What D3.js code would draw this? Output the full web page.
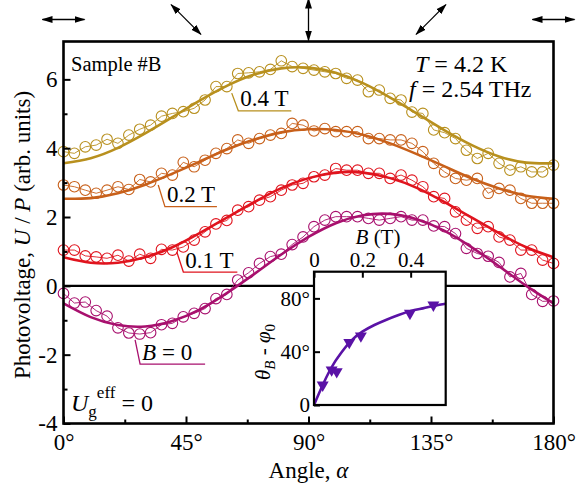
<!DOCTYPE html>
<html><head><meta charset="utf-8">
<script src="https://cdn.jsdelivr.net/npm/d3@7"></script>
<style>body{margin:0;background:#fff} text{font-family:"Liberation Serif","Times New Roman",serif;}</style>
</head><body>
<svg id="c" width="579" height="491"></svg>
<script>
// ---------- data ----------
const angles = [0,4,8,12,16,20,24,28,32,36,40,44,48,52,56,60,64,68,72,76,80,84,88,92,96,100,104,108,112,116,120,124,128,132,136,140,144,148,152,156,160,164,168,172,176,180];
const data0T  = [-0.22,-0.50,-0.47,-0.72,-0.88,-1.22,-1.37,-1.40,-1.36,-1.13,-1.09,-0.90,-0.80,-0.66,-0.37,-0.25,0.17,0.38,0.65,0.85,0.92,1.20,1.42,1.72,1.91,2.01,2.01,2.01,1.96,1.91,1.96,2.01,1.91,1.91,1.74,1.72,1.52,1.09,0.94,0.86,0.68,0.26,0.36,-0.25,-0.45,-0.44];
const data01T = [1.04,1.04,0.87,0.84,0.80,0.89,0.72,0.92,0.80,1.06,1.04,1.13,1.33,1.57,1.80,1.90,2.20,2.30,2.49,2.59,2.78,2.93,2.98,3.17,3.22,3.41,3.36,3.36,3.27,3.27,3.12,3.22,3.07,2.88,2.59,2.54,2.15,1.91,1.67,1.72,1.42,1.33,1.04,1.04,0.75,0.65];
const data02T = [2.93,2.88,2.78,2.69,2.78,2.88,2.80,3.09,3.02,3.27,3.22,3.59,3.46,3.65,3.85,3.99,4.24,4.14,4.28,4.38,4.43,4.72,4.67,4.50,4.57,4.48,4.48,4.48,4.28,4.28,4.24,4.24,4.14,3.90,3.56,3.31,3.12,3.07,3.12,2.69,2.83,2.78,2.54,2.40,2.40,2.40];
const data04T = [3.90,3.85,4.04,4.09,4.26,4.14,4.38,4.55,4.67,4.93,5.01,5.06,5.16,5.40,5.79,5.79,6.17,6.19,6.22,6.29,6.54,6.37,6.32,6.27,6.22,6.17,6.03,5.98,5.64,5.69,5.45,5.40,5.05,5.01,4.53,4.45,4.28,3.94,3.70,3.85,3.56,3.36,3.46,3.31,3.31,3.51];

const fitAngles = [0,10,20,30,40,50,60,70,80,90,100,110,120,130,140,150,160,170,180];
const fit0T  = [-0.51,-0.91,-1.14,-1.18,-1.02,-0.69,-0.21,0.34,0.91,1.42,1.82,2.05,2.09,1.93,1.60,1.12,0.57,0.00,-0.51];
const fit01T = [0.83,0.67,0.67,0.83,1.12,1.53,1.98,2.43,2.84,3.13,3.29,3.29,3.13,2.84,2.43,1.98,1.53,1.12,0.83];
const fit02T = [2.53,2.55,2.69,2.94,3.26,3.61,3.96,4.25,4.46,4.55,4.53,4.39,4.14,3.82,3.47,3.12,2.83,2.62,2.53];
const fit04T = [3.56,3.71,4.01,4.43,4.90,5.38,5.81,6.14,6.32,6.34,6.19,5.89,5.47,5.00,4.52,4.09,3.76,3.58,3.56];

const seriesNames = ["B = 0","0.1 T","0.2 T","0.4 T"];

const xTicks = [0,45,90,135,180];
const xTickLabels = ["0°","45°","90°","135°","180°"];
const xMinor = [22.5,67.5,112.5,157.5];
const yTicks = [-4,-2,0,2,4,6];
const yTickLabels = ["-4","-2","0","2","4","6"];
const yMinor = [-3,-1,1,3,5];

const polAngles = [0,45,90,135,180];

const insetB = [0.036,0.073,0.094,0.146,0.194,0.397,0.494];
const insetTheta = [15,26.3,25,47,51.8,68.8,75];
const insetFitB = [0,0.02,0.04,0.06,0.08,0.10,0.15,0.20,0.25,0.30,0.35,0.40,0.45,0.50,0.545];
const insetFitTheta = [0,8.5,16.5,24,30.5,36,47.5,55,60,64,67.5,70.5,72.5,74.5,76];
const insetXTicks = [0,0.2,0.4];
const insetXTickLabels = ["0","0.2","0.4"];
const insetYTicks = [0,40,80];
const insetYTickLabels = ["0","40°","80°"];

// ---------- layout ----------
const svg = d3.select("#c");
const L=63.5, R=553.5, T=41.5, B=423.5;
const x = d3.scaleLinear().domain([0,180]).range([L,R]);
const y = d3.scaleLinear().domain([-4,7.1]).range([B,T]);
const colors = ["#A8106E","#E0141E","#C8601A","#B8901E"];
const dataSets = [data0T,data01T,data02T,data04T];
const fitSets = [fit0T,fit01T,fit02T,fit04T];

// defs: arrowheads
const defs = svg.append("defs");
defs.append("marker").attr("id","ah").attr("viewBox","0 -4 11 8").attr("refX",10).attr("refY",0)
  .attr("markerWidth",11).attr("markerHeight",8).attr("markerUnits","userSpaceOnUse").attr("orient","auto-start-reverse")
  .append("path").attr("d","M0,-3.5L11,0L0,3.5Z").attr("fill","#000");

// polarization arrows
const half = 21;
svg.append("g").selectAll("line").data(polAngles).join("line")
  .attr("x1",d=>x(d)-half*Math.cos(d*Math.PI/180)).attr("y1",d=>19.5-half*Math.sin(d*Math.PI/180))
  .attr("x2",d=>x(d)+half*Math.cos(d*Math.PI/180)).attr("y2",d=>19.5+half*Math.sin(d*Math.PI/180))
  .attr("stroke","#000").attr("stroke-width",1.3)
  .attr("marker-start","url(#ah)").attr("marker-end","url(#ah)");

// zero line
svg.append("line").attr("x1",L).attr("x2",R).attr("y1",y(0)).attr("y2",y(0)).attr("stroke","#000").attr("stroke-width",2.2);

// fits
const fitLine = d3.line().x((d,i)=>x(fitAngles[i])).y(d=>y(d)).curve(d3.curveNatural);
fitSets.forEach((f,k)=>{
  svg.append("path").attr("d",fitLine(f)).attr("fill","none").attr("stroke",colors[k]).attr("stroke-width",2.6);
});
// data
const dLine = d3.line().x((d,i)=>x(angles[i])).y(d=>y(d));
dataSets.forEach((ds,k)=>{
  svg.append("path").attr("d",dLine(ds)).attr("fill","none").attr("stroke",colors[k]).attr("stroke-width",0.9);
  svg.append("g").selectAll("circle").data(ds).join("circle")
    .attr("cx",(d,i)=>x(angles[i])).attr("cy",d=>y(d)).attr("r",5.3)
    .attr("fill","none").attr("stroke",colors[k]).attr("stroke-width",1.1);
});

// axes
svg.append("g").attr("class","main-ax").attr("transform",`translate(0,${B})`)
  .call(d3.axisBottom(x).tickValues(xTicks).tickFormat((d,i)=>xTickLabels[i]).tickSizeInner(-7).tickSizeOuter(0).tickPadding(10));
svg.append("g").attr("class","main-ax").attr("transform",`translate(0,${B})`)
  .call(d3.axisBottom(x).tickValues(xMinor).tickFormat("").tickSizeInner(-4).tickSizeOuter(0));
svg.append("g").attr("class","main-ax").attr("transform",`translate(${L},0)`)
  .call(d3.axisLeft(y).tickValues(yTicks).tickFormat((d,i)=>yTickLabels[i]).tickSizeInner(-7).tickSizeOuter(0).tickPadding(6));
svg.append("g").attr("class","main-ax").attr("transform",`translate(${L},0)`)
  .call(d3.axisLeft(y).tickValues(yMinor).tickFormat("").tickSizeInner(-4).tickSizeOuter(0));
svg.selectAll(".main-ax .domain").remove();
svg.selectAll(".main-ax .tick line").attr("stroke","#000").attr("stroke-width",2);
svg.selectAll(".main-ax .tick text").attr("font-family","Liberation Serif").attr("font-size",23).attr("fill","#000");

// frame
svg.append("rect").attr("x",L).attr("y",T).attr("width",R-L).attr("height",B-T).attr("fill","none").attr("stroke","#000").attr("stroke-width",2.6);

// axis titles
svg.append("text").attr("x",(L+R)/2).attr("y",478).attr("text-anchor","middle").attr("font-size",23)
  .html('Angle, <tspan font-style="italic">α</tspan>');
svg.append("text").attr("transform","translate(30,235) rotate(-90)").attr("text-anchor","middle").attr("font-size",23)
  .html('Photovoltage, <tspan font-style="italic">U</tspan> / <tspan font-style="italic">P</tspan> (arb. units)');

// annotations
svg.append("text").attr("x",71).attr("y",71).attr("font-size",20.5).text("Sample #B");
svg.append("text").attr("x",415).attr("y",72).attr("font-size",24)
  .html('<tspan font-style="italic">T</tspan> = 4.2 K');
svg.append("text").attr("x",409).attr("y",97).attr("font-size",24)
  .html('<tspan font-style="italic">f</tspan> = 2.54 THz');
const ug = svg.append("text").attr("x",71).attr("y",411).attr("font-size",24);
ug.append("tspan").attr("font-style","italic").text("U");
ug.append("tspan").attr("font-size",17).attr("dy",6).text("g");
ug.append("tspan").attr("font-size",17).attr("dy",-19).text("eff");
ug.append("tspan").attr("dy",13).text(" = 0");

// callouts
const callouts = [
  {k:0, a:26.3, v:-1.57, dx:5, dy:24.3, len:65, html:'<tspan font-style="italic">B</tspan> = 0'},
  {k:1, a:41.6, v:0.99, dx:6.6, dy:20.3, len:54, html:'0.1 T'},
  {k:2, a:34.8, v:2.93, dx:6.7, dy:21.7, len:52, html:'0.2 T'},
  {k:3, a:61.8, v:5.60, dx:6.6, dy:17.7, len:53, html:'0.4 T'}
];
callouts.forEach(c=>{
  const px=x(c.a), py=y(c.v);
  svg.append("path").attr("d",`M${px},${py}L${px+c.dx},${py+c.dy}L${px+c.dx+c.len},${py+c.dy}`)
    .attr("fill","none").attr("stroke",colors[c.k]).attr("stroke-width",1.3);
  svg.append("text").attr("x",px+c.dx+2).attr("y",py+c.dy-4.5).attr("font-size",23).html(c.html);
});

// ---------- inset ----------
const iL=314, iR=445.7, iT=271.7, iB=405;
const ix = d3.scaleLinear().domain([0,0.545]).range([iL,iR]);
const iy = d3.scaleLinear().domain([0,100]).range([iB,iT]);
svg.append("rect").attr("x",iL).attr("y",iT).attr("width",iR-iL).attr("height",iB-iT).attr("fill","#fff").attr("stroke","none");
const inColor="#5A12A6";
svg.append("path").attr("d",d3.line().x((d,i)=>ix(insetFitB[i])).y(d=>iy(d)).curve(d3.curveNatural)(insetFitTheta))
  .attr("fill","none").attr("stroke",inColor).attr("stroke-width",2.6);
const tri = d3.symbol().type(d3.symbolTriangle).size(62);
svg.append("g").selectAll("path").data(insetTheta).join("path")
  .attr("d",tri).attr("transform",(d,i)=>`translate(${ix(insetB[i])},${iy(d)}) rotate(180)`).attr("fill",inColor);
svg.append("g").attr("class","in-ax").attr("transform",`translate(0,${iT})`)
  .call(d3.axisTop(ix).tickValues(insetXTicks).tickFormat((d,i)=>insetXTickLabels[i]).tickSizeInner(-6).tickSizeOuter(0).tickPadding(5));
svg.append("g").attr("class","in-ax").attr("transform",`translate(${iL},0)`)
  .call(d3.axisLeft(iy).tickValues(insetYTicks).tickFormat((d,i)=>insetYTickLabels[i]).tickSizeInner(-6).tickSizeOuter(0).tickPadding(4));
svg.selectAll(".in-ax .domain").remove();
svg.selectAll(".in-ax .tick line").attr("stroke","#000").attr("stroke-width",2);
svg.selectAll(".in-ax .tick text").attr("font-family","Liberation Serif").attr("font-size",21).attr("fill","#000");
svg.append("rect").attr("x",iL).attr("y",iT).attr("width",iR-iL).attr("height",iB-iT).attr("fill","none").attr("stroke","#000").attr("stroke-width",2.2);
svg.append("text").attr("x",378).attr("y",244).attr("text-anchor","middle").attr("font-size",21)
  .html('<tspan font-style="italic">B</tspan> (T)');
const yl = svg.append("text").attr("transform","translate(270,352) rotate(-90)").attr("text-anchor","middle").attr("font-size",21);
yl.append("tspan").attr("font-style","italic").text("θ");
yl.append("tspan").attr("font-style","italic").attr("font-size",15).attr("dy",5).text("B");
yl.append("tspan").attr("dy",-5).text(" - ");
yl.append("tspan").attr("font-style","italic").text("φ");
yl.append("tspan").attr("font-size",15).attr("dy",5).text("0");
</script>
</body></html>
